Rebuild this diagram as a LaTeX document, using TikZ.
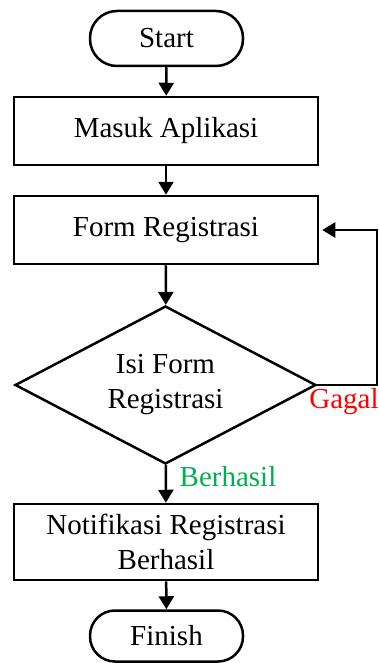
\documentclass[tikz,border=0pt]{standalone}
\usepackage{fontspec}
\setmainfont{Liberation Serif}
\usetikzlibrary{arrows.meta,shapes.geometric}
\definecolor{gagalred}{RGB}{255,0,0}
\definecolor{okgreen}{RGB}{0,176,80}
\begin{document}
\begin{tikzpicture}[x=1pt,y=-1pt,
  every node/.style={font=\fontsize{29}{35}\selectfont},
  term/.style={draw,line width=2.5pt,rounded corners=27pt,minimum width=153pt,minimum height=55pt,inner sep=0pt},
  proc/.style={draw,line width=2.5pt,minimum width=304pt,inner sep=0pt,align=center},
  dec/.style={draw,diamond,line width=2.5pt,minimum width=301pt,minimum height=158pt,aspect=1.905,inner sep=0pt,align=center},
  conn/.style={line width=2.5pt,-{Triangle[length=13pt,width=15pt]}},
  lbl/.style={inner sep=0pt}]
\useasboundingbox (0,0) rectangle (379,663);
\node[term] (start) at (166.5,38.5) {Start};
\node[proc,minimum height=68pt] (masuk) at (166,131) {Masuk Aplikasi};
\node[proc,minimum height=68pt] (form) at (166,230) {Form Registrasi};
\node[dec] (isi) at (165.5,385) {Isi Form\\Registrasi};
\node[proc,minimum height=76pt] (notif) at (166,542) {Notifikasi Registrasi\\Berhasil};
\node[term,minimum height=51pt,rounded corners=25pt] (finish) at (166.5,636) {Finish};
\coordinate (c1) at (377,385);
\coordinate (c2) at (377,230);
\draw[conn] (start) -- (masuk);
\draw[conn] (masuk) -- (form);
\draw[conn] (form) -- (isi);
\draw[conn] (isi) -- (notif);
\draw[conn] (notif) -- (finish);
\draw[conn,shorten >=3pt] (isi.east) -- (c1) -- (c2) -- (form.east);
\node[lbl,text=gagalred] (gagal) at (344,402) {Gagal};
\node[lbl,text=okgreen] (berhasil) at (228,477) {Berhasil};
\end{tikzpicture}
\end{document}
